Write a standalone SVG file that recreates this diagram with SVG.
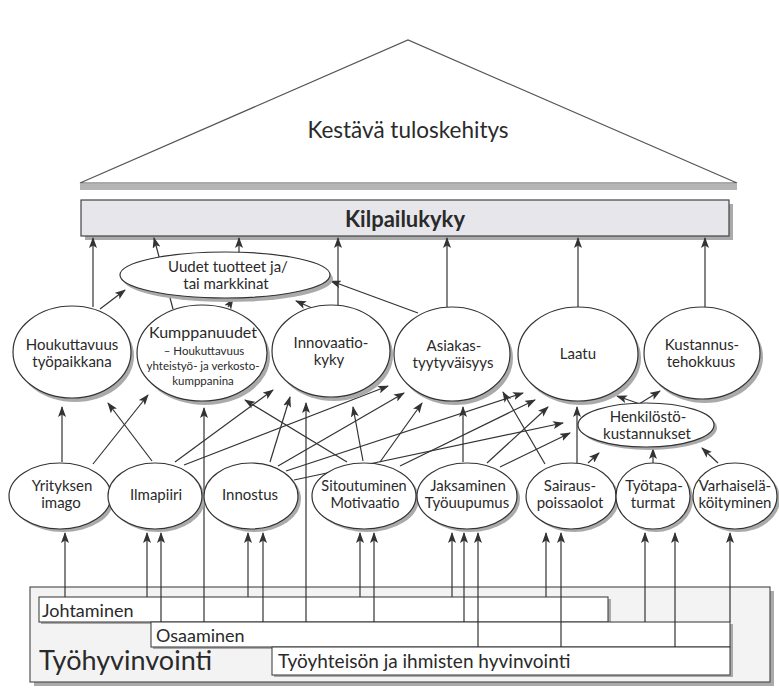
<svg xmlns="http://www.w3.org/2000/svg" width="779" height="693" viewBox="0 0 779 693">
  <defs>
    <marker id="arr" markerWidth="11" markerHeight="8" refX="10" refY="4" orient="auto" markerUnits="userSpaceOnUse">
      <path d="M0,0 L11,4 L0,8 L2.5,4 Z" fill="#333"/>
    </marker>
  </defs>
  <style>
    .t { font-family: Lato, "Open Sans", "Liberation Sans", sans-serif; fill: #2a2a2a; }
    .c { text-anchor: middle; }
    .node { fill: #fff; stroke: #333; stroke-width: 1.2; }
    .shadow { fill: #aaa; stroke: none; }
    .box { fill: #fff; stroke: #444; stroke-width: 1.1; }
    .links line { stroke: #333; stroke-width: 1.2; marker-end: url(#arr); }
  </style>
  <rect width="779" height="693" fill="#fff"/>

  <!-- roof -->
  <g id="roof">
    <rect x="80" y="184" width="657" height="6" fill="#b5b5b5"/>
    <polygon points="80,183 408,40 737,183" fill="#fff" stroke="#555" stroke-width="1.2"/>
    <text class="t c" x="408" y="138" font-size="22.5">Kestävä tuloskehitys</text>
  </g>

  <!-- competitiveness bar -->
  <g id="kilpailukyky">
    <rect x="85" y="204" width="648" height="36" class="shadow"/>
    <rect x="81" y="200" width="648" height="36" fill="#e7e7eb" stroke="#444" stroke-width="1.2"/>
    <text class="t c" x="405" y="227" font-size="22" font-weight="bold">Kilpailukyky</text>
  </g>

  <!-- wellbeing base -->
  <g id="tyohyvinvointi">
    <rect x="34" y="591" width="740" height="95" class="shadow"/>
    <rect x="30" y="587" width="740" height="95" fill="#f3f3f3" stroke="#444" stroke-width="1.1"/>
    <text class="t" x="39" y="670" font-size="27">Työhyvinvointi</text>
  </g>
  <g id="johtaminen">
    <rect x="41" y="599" width="570" height="25" class="shadow"/>
    <rect x="39" y="597" width="569" height="25" class="box"/>
    <text class="t" x="42" y="617" font-size="18">Johtaminen</text>
  </g>
  <g id="osaaminen">
    <rect x="153" y="624" width="580" height="25" class="shadow"/>
    <rect x="151" y="622" width="579" height="25" class="box"/>
    <text class="t" x="156" y="642" font-size="18">Osaaminen</text>
  </g>
  <g id="tyoyhteiso">
    <rect x="274" y="649" width="459" height="28" class="shadow"/>
    <rect x="272" y="647" width="458" height="28" class="box"/>
    <text class="t" x="278" y="668" font-size="19">Työyhteisön ja ihmisten hyvinvointi</text>
  </g>

  <!-- connectors -->
  <g id="connectors" class="links">
    <!-- into Kilpailukyky -->
    <line x1="93" y1="307" x2="93" y2="238"/>
    <line x1="173" y1="309" x2="154" y2="238"/>
    <line x1="239" y1="253" x2="239" y2="238"/>
    <line x1="338" y1="305" x2="338" y2="238"/>
    <line x1="447" y1="307" x2="447" y2="238"/>
    <line x1="578" y1="307" x2="578" y2="238"/>
    <line x1="705" y1="307" x2="705" y2="238"/>
    <!-- into Uudet tuotteet -->
    <line x1="100" y1="309" x2="125" y2="290"/>
    <line x1="228" y1="307" x2="233" y2="299"/>
    <line x1="312" y1="308" x2="296" y2="301"/>
    <line x1="418" y1="313" x2="331" y2="281"/>
    <!-- Henkilöstökustannukset -->
    <line x1="640" y1="404" x2="617" y2="396"/>
    <line x1="639" y1="404" x2="660" y2="391"/>
    <line x1="588" y1="463" x2="599" y2="453"/>
    <line x1="653" y1="463" x2="653" y2="449"/>
    <line x1="718" y1="463" x2="702" y2="448"/>
    <!-- lower row to middle row -->
    <line x1="62" y1="462" x2="62" y2="407"/>
    <line x1="93" y1="464" x2="148" y2="395"/>
    <line x1="152" y1="461" x2="108" y2="403"/>
    <line x1="175" y1="462" x2="273" y2="390"/>
    <line x1="184" y1="465" x2="388" y2="386"/>
    <line x1="270" y1="462" x2="290" y2="397"/>
    <line x1="278" y1="466" x2="404" y2="393"/>
    <line x1="286" y1="471" x2="523" y2="393"/>
    <line x1="294" y1="480" x2="563" y2="423"/>
    <line x1="347" y1="462" x2="245" y2="400"/>
    <line x1="363" y1="461" x2="353" y2="407"/>
    <line x1="380" y1="462" x2="422" y2="403"/>
    <line x1="400" y1="466" x2="535" y2="400"/>
    <line x1="463" y1="462" x2="463" y2="407"/>
    <line x1="487" y1="463" x2="548" y2="407"/>
    <line x1="500" y1="467" x2="570" y2="433"/>
    <line x1="545" y1="464" x2="503" y2="392"/>
    <line x1="577" y1="463" x2="577" y2="407"/>
    <!-- long risers from Osaaminen -->
    <line x1="204" y1="622" x2="204" y2="408"/>
    <line x1="306" y1="622" x2="306" y2="403"/>
    <!-- base to lower row -->
    <line x1="65" y1="597" x2="65" y2="533"/>
    <line x1="147" y1="597" x2="147" y2="533"/>
    <line x1="161" y1="622" x2="161" y2="533"/>
    <line x1="248" y1="597" x2="248" y2="533"/>
    <line x1="263" y1="622" x2="263" y2="533"/>
    <line x1="360" y1="597" x2="360" y2="533"/>
    <line x1="374" y1="622" x2="374" y2="533"/>
    <line x1="452" y1="597" x2="452" y2="533"/>
    <line x1="464" y1="622" x2="464" y2="533"/>
    <line x1="478" y1="647" x2="478" y2="533"/>
    <line x1="546" y1="597" x2="546" y2="533"/>
    <line x1="561" y1="647" x2="561" y2="533"/>
    <line x1="645" y1="622" x2="645" y2="533"/>
    <line x1="675" y1="647" x2="675" y2="533"/>
    <line x1="730" y1="622" x2="730" y2="533"/>
  </g>

  <!-- middle row -->
  <g id="uudet">
    <ellipse cx="228" cy="279" rx="105" ry="23" class="shadow"/>
    <ellipse cx="225" cy="275" rx="105" ry="23" class="node"/>
    <text class="t c" x="228" y="272" font-size="15">Uudet tuotteet ja/</text>
    <text class="t c" x="226" y="289" font-size="15">tai markkinat</text>
  </g>
  <g id="houkuttavuus">
    <ellipse cx="75" cy="356" rx="59" ry="46" class="shadow"/>
    <ellipse cx="72" cy="352" rx="59" ry="46" class="node"/>
    <text class="t c" x="72" y="350" font-size="15">Houkuttavuus</text>
    <text class="t c" x="72" y="367" font-size="15">työpaikkana</text>
  </g>
  <g id="kumppanuudet">
    <ellipse cx="205" cy="357" rx="65" ry="48" class="shadow"/>
    <ellipse cx="202" cy="353" rx="65" ry="48" class="node"/>
    <text class="t c" x="203" y="338" font-size="16">Kumppanuudet</text>
    <text class="t c" x="204" y="355" font-size="11.5">– Houkuttavuus</text>
    <text class="t c" x="203" y="370" font-size="11.5">yhteistyö- ja verkosto-</text>
    <text class="t c" x="203" y="385" font-size="11.5">kumppanina</text>
  </g>
  <g id="innovaatiokyky">
    <ellipse cx="334" cy="355" rx="59" ry="46" class="shadow"/>
    <ellipse cx="331" cy="351" rx="59" ry="46" class="node"/>
    <text class="t c" x="331" y="348" font-size="15">Innovaatio-</text>
    <text class="t c" x="329" y="365" font-size="15">kyky</text>
  </g>
  <g id="asiakastyytyvaisyys">
    <ellipse cx="455" cy="358" rx="58" ry="47" class="shadow"/>
    <ellipse cx="452" cy="354" rx="58" ry="47" class="node"/>
    <text class="t c" x="454" y="351" font-size="15">Asiakas-</text>
    <text class="t c" x="453" y="368" font-size="15">tyytyväisyys</text>
  </g>
  <g id="laatu">
    <ellipse cx="581" cy="358" rx="60" ry="47" class="shadow"/>
    <ellipse cx="578" cy="354" rx="60" ry="47" class="node"/>
    <text class="t c" x="578" y="359" font-size="15">Laatu</text>
  </g>
  <g id="kustannustehokkuus">
    <ellipse cx="705" cy="357" rx="58" ry="46" class="shadow"/>
    <ellipse cx="702" cy="353" rx="58" ry="46" class="node"/>
    <text class="t c" x="702" y="350" font-size="15">Kustannus-</text>
    <text class="t c" x="701" y="367" font-size="15">tehokkuus</text>
  </g>
  <g id="henkilostokustannukset">
    <ellipse cx="649" cy="428" rx="68" ry="22" class="shadow"/>
    <ellipse cx="646" cy="425" rx="68" ry="22" class="node"/>
    <text class="t c" x="648" y="422" font-size="15">Henkilöstö-</text>
    <text class="t c" x="647" y="439" font-size="15">kustannukset</text>
  </g>

  <!-- lower row -->
  <g id="yrityksen-imago">
    <ellipse cx="63" cy="499" rx="51" ry="33" class="shadow"/>
    <ellipse cx="60" cy="496" rx="51" ry="33" class="node"/>
    <text class="t c" x="62" y="491" font-size="15">Yrityksen</text>
    <text class="t c" x="61" y="508" font-size="15">imago</text>
  </g>
  <g id="ilmapiiri">
    <ellipse cx="158" cy="499" rx="47" ry="33" class="shadow"/>
    <ellipse cx="155" cy="496" rx="47" ry="33" class="node"/>
    <text class="t c" x="156" y="500" font-size="15">Ilmapiiri</text>
  </g>
  <g id="innostus">
    <ellipse cx="254" cy="499" rx="47" ry="33" class="shadow"/>
    <ellipse cx="251" cy="496" rx="47" ry="33" class="node"/>
    <text class="t c" x="250" y="500" font-size="15">Innostus</text>
  </g>
  <g id="sitoutuminen">
    <ellipse cx="367" cy="499" rx="52" ry="33" class="shadow"/>
    <ellipse cx="364" cy="496" rx="52" ry="33" class="node"/>
    <text class="t c" x="364" y="491" font-size="14.5">Sitoutuminen</text>
    <text class="t c" x="365" y="508" font-size="14.5">Motivaatio</text>
  </g>
  <g id="jaksaminen">
    <ellipse cx="470" cy="499" rx="50" ry="33" class="shadow"/>
    <ellipse cx="467" cy="496" rx="50" ry="33" class="node"/>
    <text class="t c" x="468" y="491" font-size="15">Jaksaminen</text>
    <text class="t c" x="467" y="508" font-size="15">Työuupumus</text>
  </g>
  <g id="sairauspoissaolot">
    <ellipse cx="574" cy="499" rx="45" ry="33" class="shadow"/>
    <ellipse cx="571" cy="496" rx="45" ry="33" class="node"/>
    <text class="t c" x="570" y="491" font-size="15">Sairaus-</text>
    <text class="t c" x="570" y="508" font-size="15">poissaolot</text>
  </g>
  <g id="tyotapaturmat">
    <ellipse cx="656" cy="499" rx="37" ry="33" class="shadow"/>
    <ellipse cx="653" cy="496" rx="37" ry="33" class="node"/>
    <text class="t c" x="654" y="491" font-size="15">Työtapa-</text>
    <text class="t c" x="653" y="508" font-size="15">turmat</text>
  </g>
  <g id="varhaiselakoityminen">
    <ellipse cx="738" cy="499" rx="42" ry="33" class="shadow"/>
    <ellipse cx="735" cy="496" rx="42" ry="33" class="node"/>
    <text class="t c" x="735" y="491" font-size="15">Varhaiselä-</text>
    <text class="t c" x="735" y="508" font-size="15">köityminen</text>
  </g>
</svg>
